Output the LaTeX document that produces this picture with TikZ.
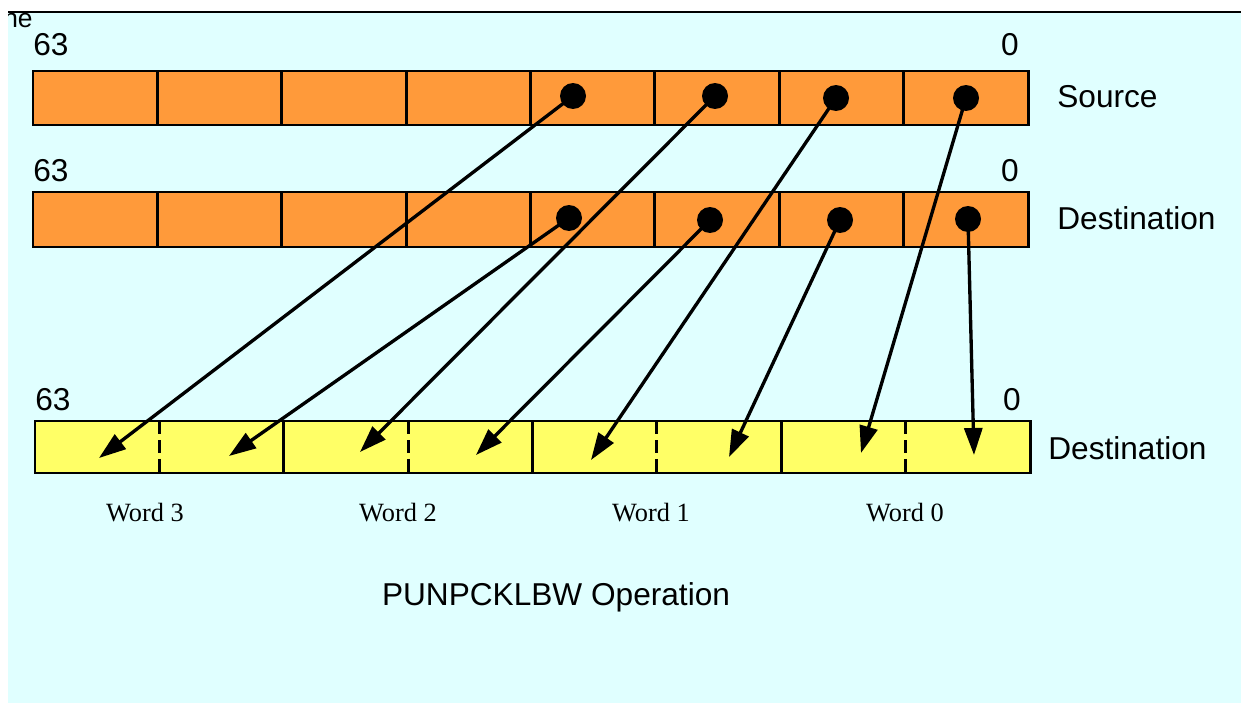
\documentclass[tikz,border=0pt]{standalone}
\usepackage{fontspec}
\setmainfont{Liberation Sans}
\newfontfamily\timesf{Liberation Serif}
\usetikzlibrary{arrows.meta}
\definecolor{bg}{HTML}{E0FFFF}
\definecolor{orng}{HTML}{FF9A3A}
\definecolor{ylw}{HTML}{FFFF66}
\begin{document}
\begin{tikzpicture}[x=0.02cm,y=-0.02cm,
  cellS/.style={draw=black,fill=orng,line width=1.7pt},
  cellY/.style={draw=black,fill=ylw,line width=1.7pt},
  dashdiv/.style={line width=1.7pt,dash pattern=on 0.26cm off 0.12cm},
  dot/.style={circle,fill=black,inner sep=0pt,minimum size=0.52cm},
  arr/.style={line width=1.9pt,-{Triangle[length=0.54cm,width=0.36cm]}},
  lbl/.style={font=\fontsize{18}{20}\selectfont,inner sep=0pt},
  wlbl/.style={font=\timesf\fontsize{15}{17}\selectfont,inner sep=0pt}]
\useasboundingbox (0,0) rectangle (1241,703);
\fill[white] (0,0) rectangle (1241,703);
\fill[bg] (8,12) rectangle (1241,703);
\draw[line width=1.7pt] (8,12) -- (1241,12);
\begin{scope}
\clip (8,12) rectangle (60,60);
\node[lbl,anchor=base east,font=\fontsize{15}{17}\selectfont] (ne) at (33,28) {ne};
\end{scope}
% Source row
\foreach \i in {0,...,7}
  \draw[cellS] ({33+\i*124.375},71) rectangle ++(124.375,54);
% Destination row
\foreach \i in {0,...,7}
  \draw[cellS] ({33+\i*124.375},192) rectangle ++(124.375,55);
% Result row
\foreach \i in {0,...,3}
  \draw[cellY] ({35+\i*248.75},421) rectangle ++(248.75,52);
\foreach \i in {0,...,3}
  \draw[dashdiv] ({35+\i*248.75+124.375},421) -- ++(0,52);
% labels
\node[lbl,anchor=base west] (l63a) at (33,55) {63};
\node[lbl,anchor=base east] (l0a) at (1019,55) {0};
\node[lbl,anchor=base west] (l63b) at (33,181) {63};
\node[lbl,anchor=base east] (l0b) at (1019,181) {0};
\node[lbl,anchor=base west] (l63c) at (35,410) {63};
\node[lbl,anchor=base east] (l0c) at (1021,410) {0};
\node[lbl,anchor=base west] (src) at (1057,107) {Source};
\node[lbl,anchor=base west] (dst) at (1057,229) {Destination};
\node[lbl,anchor=base west] (res) at (1048,459) {Destination};
\node[wlbl,anchor=base] (w3) at (145,521) {Word 3};
\node[wlbl,anchor=base] (w2) at (398,521) {Word 2};
\node[wlbl,anchor=base] (w1) at (651,521) {Word 1};
\node[wlbl,anchor=base] (w0) at (905,521) {Word 0};
\node[lbl,anchor=base] (title) at (556,605) {PUNPCKLBW Operation};
% dots
\node[dot] (s3) at (573,96) {};
\node[dot] (s2) at (715,96) {};
\node[dot] (s1) at (836,98) {};
\node[dot] (s0) at (966,98) {};
\node[dot] (d3) at (569,218) {};
\node[dot] (d2) at (710,220) {};
\node[dot] (d1) at (840,220) {};
\node[dot] (d0) at (968,219) {};
% targets
\coordinate (t7) at (99,458);
\coordinate (t6) at (229,456);
\coordinate (t5) at (360,452);
\coordinate (t4) at (476,455);
\coordinate (t3) at (591,460);
\coordinate (t2) at (729,457);
\coordinate (t1) at (861,453);
\coordinate (t0) at (974,455);
\draw[arr] (s3.center) -- (t7);
\draw[arr] (d3.center) -- (t6);
\draw[arr] (s2.center) -- (t5);
\draw[arr] (d2.center) -- (t4);
\draw[arr] (s1.center) -- (t3);
\draw[arr] (d1.center) -- (t2);
\draw[arr] (s0.center) -- (t1);
\draw[arr] (d0.center) -- (t0);
\end{tikzpicture}
\end{document}
